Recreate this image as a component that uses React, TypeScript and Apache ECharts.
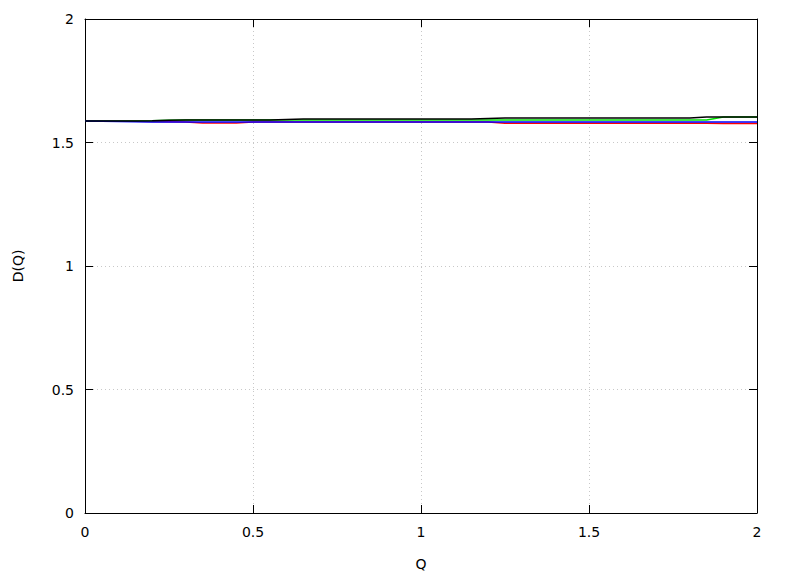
import React, { useEffect, useRef } from "react";
import * as echarts from "echarts";

const qValues = [0, 0.05, 0.1, 0.15, 0.2, 0.25, 0.3, 0.35, 0.4, 0.45, 0.5, 0.55, 0.6, 0.65, 0.7, 0.75, 0.8, 0.85, 0.9, 0.95, 1.0, 1.05, 1.1, 1.15, 1.2, 1.25, 1.3, 1.35, 1.4, 1.45, 1.5, 1.55, 1.6, 1.65, 1.7, 1.75, 1.8, 1.85, 1.9, 1.95, 2.0];

const redD = [1.587, 1.587, 1.586, 1.586, 1.585, 1.584, 1.583, 1.579, 1.579, 1.579, 1.583, 1.583, 1.583, 1.583, 1.583, 1.583, 1.583, 1.583, 1.583, 1.583, 1.583, 1.583, 1.583, 1.583, 1.583, 1.578, 1.578, 1.578, 1.578, 1.578, 1.578, 1.578, 1.578, 1.578, 1.578, 1.578, 1.578, 1.578, 1.577, 1.577, 1.577];
const greenD = [1.587, 1.587, 1.587, 1.587, 1.588, 1.590, 1.591, 1.591, 1.591, 1.591, 1.591, 1.591, 1.591, 1.591, 1.591, 1.591, 1.591, 1.591, 1.591, 1.591, 1.591, 1.591, 1.591, 1.591, 1.591, 1.591, 1.591, 1.591, 1.591, 1.591, 1.591, 1.591, 1.591, 1.591, 1.591, 1.591, 1.591, 1.591, 1.603, 1.603, 1.603];
const blueD = [1.587, 1.586, 1.585, 1.584, 1.583, 1.583, 1.583, 1.583, 1.583, 1.583, 1.583, 1.583, 1.583, 1.583, 1.583, 1.583, 1.583, 1.583, 1.583, 1.583, 1.583, 1.583, 1.583, 1.583, 1.583, 1.583, 1.583, 1.583, 1.583, 1.583, 1.583, 1.583, 1.583, 1.583, 1.583, 1.583, 1.583, 1.583, 1.583, 1.583, 1.583];
const blackD = [1.587, 1.587, 1.587, 1.587, 1.588, 1.590, 1.591, 1.591, 1.591, 1.591, 1.591, 1.591, 1.593, 1.595, 1.595, 1.595, 1.595, 1.595, 1.595, 1.595, 1.595, 1.595, 1.595, 1.595, 1.597, 1.599, 1.599, 1.599, 1.599, 1.599, 1.599, 1.599, 1.599, 1.599, 1.599, 1.599, 1.599, 1.603, 1.603, 1.603, 1.603];

const xTicks = [0, 0.5, 1, 1.5, 2];
const yTicks = [0, 0.5, 1, 1.5, 2];

const FONT = "DejaVu Sans";

export default function App() {
  const ref = useRef<HTMLDivElement>(null);
  useEffect(() => {
    document.body.style.margin = "0";
    const chart = echarts.init(ref.current!, undefined, { renderer: "svg" });
    const pair = (ys: number[]) => qValues.map((q, i) => [q, ys[i]]);
    const labelFmt = (v: number) => String(v);
    const tickStyle = { show: true, inside: true, length: 8, lineStyle: { color: "#000", width: 1 } };
    const split = { show: true, lineStyle: { color: "#c8c8c8", type: [1, 3] as any, width: 1 } };
    const mkSeries = (name: string, ys: number[], color: string) => ({
      name,
      type: "line",
      data: pair(ys),
      showSymbol: false,
      symbol: "none",
      lineStyle: { color, width: 1.5 },
      itemStyle: { color },
      xAxisIndex: 0,
      yAxisIndex: 0,
    });
    chart.setOption({
      animation: false,
      backgroundColor: "#fff",
      grid: { left: 85, top: 19, width: 672, height: 496, containLabel: false, show: false },
      xAxis: [
        {
          type: "value", min: 0, max: 2, interval: 0.5, position: "bottom",
          name: "Q", nameLocation: "middle", nameGap: 44,
          nameTextStyle: { fontFamily: FONT, fontSize: 14, color: "#000" },
          axisLine: { show: true, onZero: false, lineStyle: { color: "#000", width: 1 } },
          axisTick: tickStyle,
          axisLabel: { fontFamily: FONT, fontSize: 14, color: "#000", margin: 12, formatter: labelFmt },
          splitLine: split,
        },
        {
          type: "value", min: 0, max: 2, interval: 0.5, position: "top",
          axisLine: { show: true, onZero: false, lineStyle: { color: "#000", width: 1 } },
          axisTick: tickStyle,
          axisLabel: { show: false },
          splitLine: { show: false },
        },
      ],
      yAxis: [
        {
          type: "value", min: 0, max: 2, interval: 0.5, position: "left",
          name: "D(Q)", nameLocation: "middle", nameGap: 60, nameRotate: 90,
          nameTextStyle: { fontFamily: FONT, fontSize: 14, color: "#000" },
          axisLine: { show: true, onZero: false, lineStyle: { color: "#000", width: 1 } },
          axisTick: tickStyle,
          axisLabel: { fontFamily: FONT, fontSize: 14, color: "#000", margin: 11, formatter: labelFmt },
          splitLine: split,
        },
        {
          type: "value", min: 0, max: 2, interval: 0.5, position: "right",
          axisLine: { show: true, onZero: false, lineStyle: { color: "#000", width: 1 } },
          axisTick: tickStyle,
          axisLabel: { show: false },
          splitLine: { show: false },
        },
      ],
      series: [
        mkSeries("red", redD, "#ff0000"),
        mkSeries("green", greenD, "#00e000"),
        mkSeries("blue", blueD, "#0000ff"),
        mkSeries("black", blackD, "#000000"),
      ],
    });
    return () => chart.dispose();
  }, []);
  return <div ref={ref} style={{ width: 788, height: 576 }} />;
}
